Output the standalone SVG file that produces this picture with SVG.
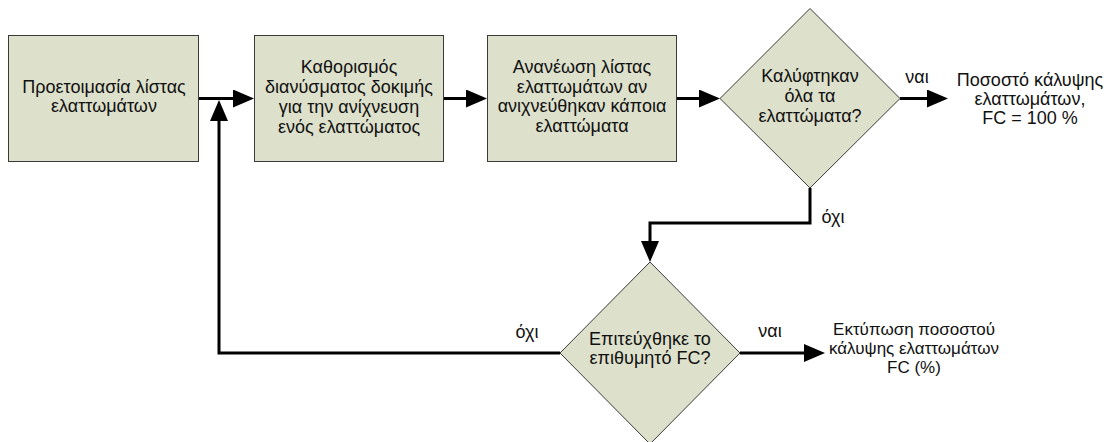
<svg xmlns="http://www.w3.org/2000/svg" width="1106" height="442" viewBox="0 0 1106 442">
<defs>
<style>
.box{fill:#dde0cb;stroke:#3a3a3a;stroke-width:1}
.t{font-family:"Liberation Sans",Arial,sans-serif;font-size:18px;fill:#111;text-anchor:middle}
.s{font-size:17px}
.c{fill:none;stroke:#000;stroke-width:3}
</style>
<marker id="ah" markerUnits="userSpaceOnUse" markerWidth="21" markerHeight="18" refX="0" refY="9" orient="auto" viewBox="0 0 21 18">
<path d="M0,0 L21,9 L0,18 z" fill="#000"/>
</marker>
</defs>
<rect width="1106" height="442" fill="#fff"/>
<g id="connectors">
<path class="c" d="M199,98.5 H233" marker-end="url(#ah)"/>
<path class="c" d="M444,98.5 H466" marker-end="url(#ah)"/>
<path class="c" d="M677,98.5 H699" marker-end="url(#ah)"/>
<path class="c" d="M900,98.5 H927" marker-end="url(#ah)"/>
<path class="c" d="M810,188 V223 H650 V241" marker-end="url(#ah)"/>
<path class="c" d="M740,353 H804" marker-end="url(#ah)"/>
<path class="c" d="M560,353 H219 V121" marker-end="url(#ah)"/>
<text class="t" x="917" y="83">ναι</text>
<text class="t" x="833" y="223">όχι</text>
<text class="t" x="527" y="338">όχι</text>
<text class="t" x="770" y="337">ναι</text>
</g>
<g id="n1">
<rect class="box" x="8.5" y="35.5" width="190" height="126"/>
<text class="t" x="104" y="93">Προετοιμασία λίστας</text>
<text class="t" x="104" y="112">ελαττωμάτων</text>
</g>
<g id="n2">
<rect class="box" x="254.5" y="35.5" width="189" height="126"/>
<text class="t" x="349" y="73">Καθορισμός</text>
<text class="t" x="349" y="93">διανύσματος δοκιμής</text>
<text class="t" x="349" y="113">για την ανίχνευση</text>
<text class="t" x="349" y="133">ενός ελαττώματος</text>
</g>
<g id="n3">
<rect class="box" x="487.5" y="35.5" width="189" height="126"/>
<text class="t" x="582" y="73">Ανανέωση λίστας</text>
<text class="t" x="582" y="92.5">ελαττωμάτων αν</text>
<text class="t" x="582" y="112">ανιχνεύθηκαν κάποια</text>
<text class="t" x="582" y="131.5">ελαττώματα</text>
</g>
<g id="d1">
<polygon class="box" points="810,8.5 900,98.5 810,188 720,98.5"/>
<text class="t" x="810" y="82">Καλύφτηκαν</text>
<text class="t" x="810" y="102">όλα τα</text>
<text class="t" x="810" y="122">ελαττώματα?</text>
</g>
<g id="out1">
<text class="t" x="1030" y="86">Ποσοστό κάλυψης</text>
<text class="t" x="1030" y="105">ελαττωμάτων,</text>
<text class="t" x="1030" y="124">FC = 100 %</text>
</g>
<g id="d2">
<polygon class="box" points="650,262 740,353 650,444 560,353"/>
<text class="t" x="650" y="345">Επιτεύχθηκε το</text>
<text class="t" x="650" y="364">επιθυμητό FC?</text>
</g>
<g id="out2">
<text class="t s" x="914" y="335">Εκτύπωση ποσοστού</text>
<text class="t s" x="914" y="354">κάλυψης ελαττωμάτων</text>
<text class="t s" x="914" y="373">FC (%)</text>
</g>
</svg>
